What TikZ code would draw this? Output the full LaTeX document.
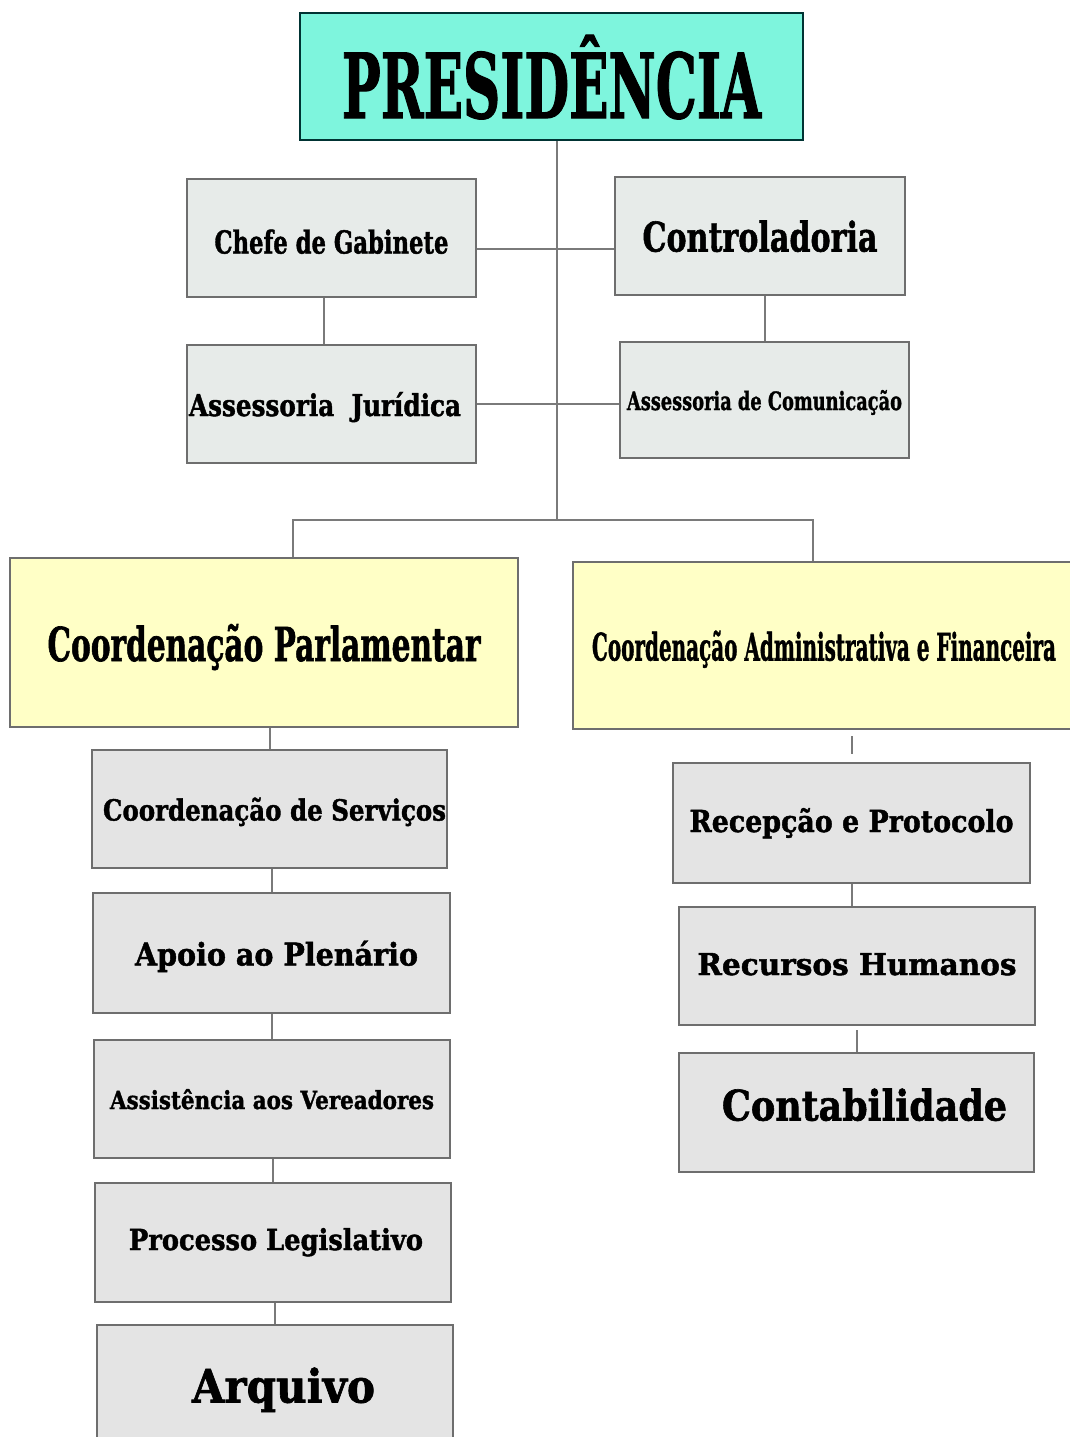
\documentclass[tikz,border=0pt]{standalone}
\usepackage{fontspec}
\setmainfont{DejaVu Serif}[BoldFeatures={FakeBold=1.5}]
\usepackage{graphicx}
\definecolor{unitgray}{HTML}{E4E4E4}
\definecolor{unitmint}{HTML}{E7EBE9}
\definecolor{presteal}{HTML}{7EF5DD}
\definecolor{coordyellow}{HTML}{FFFFC6}
\definecolor{framegray}{HTML}{6E6E6E}
\definecolor{linkgray}{HTML}{7A7A7A}
\tikzstyle{unit} = [rectangle,draw=framegray,line width=2.2pt,fill=unitgray,text depth=0pt,inner sep=2pt]
\tikzstyle{staff} = [unit,fill=unitmint]
\tikzstyle{coordbox} = [unit,fill=coordyellow]
\tikzstyle{link} = [draw=linkgray,line width=2pt]
\newcommand{\fitlbl}[3]{\resizebox{#1pt}{#2pt}{\bfseries #3}}

\begin{document}
\begin{tikzpicture}[x=1pt,y=-1pt]
    \useasboundingbox (0,0) rectangle (1070,1437);
    \clip (0,0) rectangle (1070,1437);
    \fill [white] (0,0) rectangle (1070,1437);
    % top
    \node [unit,fill=presteal,draw=black!60!teal,minimum width=503,minimum height=127] (pres) at (551.5,76.5) {\fitlbl{419}{83}{PRESIDÊNCIA}};
    \node [staff,minimum width=289,minimum height=118,text height=31pt] (chefe) at (331.5,238) {\fitlbl{234}{24}{Chefe de Gabinete}};
    \node [staff,minimum width=290,minimum height=118] (ctrl) at (760,236) {\fitlbl{235}{31}{Controladoria}};
    \node [staff,minimum width=289,minimum height=118] (aj) at (331.5,404) {\fitlbl{272}{24}{Assessoria~~Jurídica}\hspace*{13pt}};
    \node [staff,minimum width=289,minimum height=116] (ascom) at (764.5,400) {\fitlbl{275}{20}{Assessoria de Comunicação}};
    % coordenacoes
    \node [coordbox,minimum width=508,minimum height=169] (cparl) at (264,642.5) {\fitlbl{433}{37}{Coordenação Parlamentar}};
    \node [coordbox,minimum width=502,minimum height=167] (cadm) at (824,645.5) {\fitlbl{464}{30}{Coordenação Administrativa e Financeira}};
    % left column
    \node [unit,minimum width=355,minimum height=118,inner sep=0pt] (serv) at (269.5,809) {\hspace*{10pt}\fitlbl{343}{23}{Coordenação de Serviços}};
    \node [unit,minimum width=357,minimum height=120] (apoio) at (271.5,953) {\hspace*{10pt}\fitlbl{283}{25}{Apoio ao Plenário}};
    \node [unit,minimum width=356,minimum height=118] (assist) at (272,1099) {\fitlbl{324}{20}{Assistência aos Vereadores}};
    \node [unit,minimum width=356,minimum height=119,text depth=7pt] (proc) at (273,1242.5) {\hspace*{6pt}\fitlbl{294}{22}{Processo Legislativo}};
    \node [unit,minimum width=356,minimum height=120] (arq) at (275,1385) {\hspace*{17pt}\fitlbl{183}{35}{Arquivo}};
    % right column
    \node [unit,minimum width=357,minimum height=120,text depth=6pt] (recep) at (851.5,823) {\fitlbl{324}{24}{Recepção e Protocolo}};
    \node [unit,minimum width=356,minimum height=118,text depth=4pt] (rh) at (857,966) {\fitlbl{319}{22}{Recursos Humanos}};
    \node [unit,minimum width=355,minimum height=119,text depth=16pt] (contab) at (856.5,1112.5) {\hspace*{16pt}\fitlbl{285}{32}{Contabilidade}};

    \coordinate (bus) at (557,520);
    \draw [link] ([xshift=5.5pt]pres.south) -- (bus);
    \draw [link] ([xshift=29pt]cparl.north) |- (bus) -| ([xshift=-11pt]cadm.north);
    \draw [link] ([yshift=-11pt]chefe.east) -- ([yshift=-11pt]chefe.east -| ctrl.west);
    \draw [link] ([xshift=-7.5pt]chefe.south) -- ([xshift=-7.5pt]chefe.south |- aj.north);
    \draw [link] (ascom.north |- ctrl.south) -- (ascom.north);
    \draw [link] (aj.east) -- (aj.east -| ascom.west);
    \draw [link] (serv.north |- cparl.south) -- (serv.north);
    \foreach \a/\b in {serv/apoio,apoio/assist,assist/proc,proc/arq}
        \draw [link] (\b.north |- \a.south) -- (\b.north);
    \draw [link,shorten <=6pt,shorten >=8pt] (recep.north |- cadm.south) -- (recep.north);
    \draw [link] (recep.south) -- (recep.south |- rh.north);
    \draw [link,shorten <=4pt] (rh.south) -- (rh.south |- contab.north);
\end{tikzpicture}
\end{document}
